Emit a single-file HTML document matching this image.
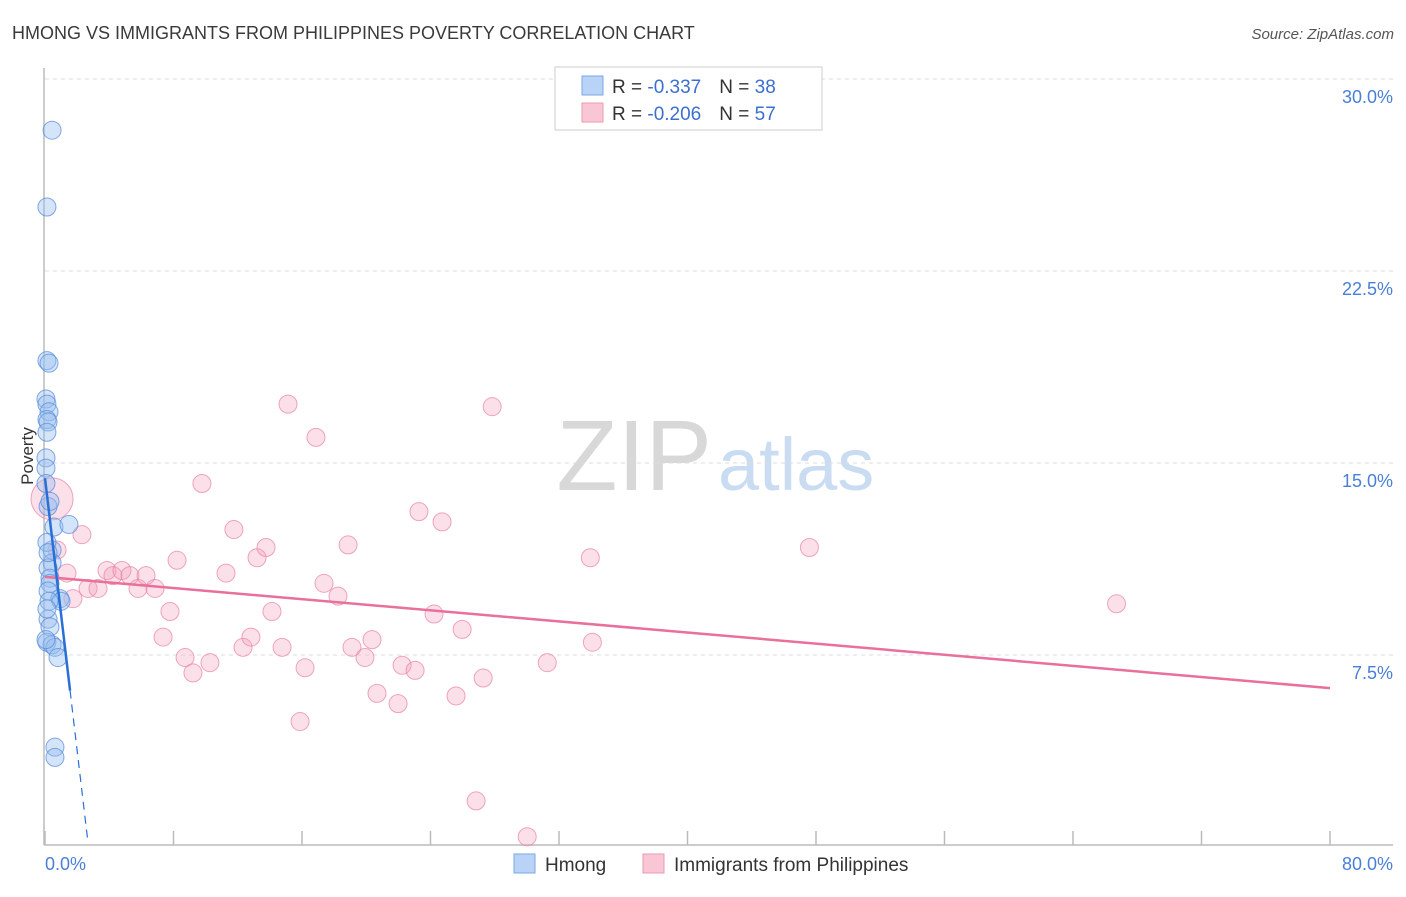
<!DOCTYPE html>
<html><head><meta charset="utf-8"><style>
body{margin:0;background:#fff;font-family:"Liberation Sans",sans-serif}
svg text{font-family:"Liberation Sans",sans-serif}
</style></head><body>
<svg id="chart" width="1406" height="892" viewBox="0 0 1406 892" xmlns="http://www.w3.org/2000/svg">
<text x="12" y="39" font-size="18" fill="#3a3a3a">HMONG VS IMMIGRANTS FROM PHILIPPINES POVERTY CORRELATION CHART</text>
<text x="1394" y="39" font-size="15" fill="#555" text-anchor="end" font-style="italic">Source: ZipAtlas.com</text>
<g>
<text x="712" y="490" font-size="100" fill="#d8d8d8" text-anchor="end" font-family="Liberation Serif,serif">ZIP</text>
<text x="718" y="490" font-size="74" fill="#c9dcf2">atlas</text>
</g>
<g id="grid"></g>
<line x1="44" y1="68" x2="44" y2="845" stroke="#bbb" stroke-width="1.5"/>
<line x1="44" y1="845" x2="1393" y2="845" stroke="#bbb" stroke-width="1.5"/>
<g id="xticks"></g>
<text transform="translate(33,456) rotate(-90)" font-size="17" fill="#333" text-anchor="middle">Poverty</text>
<text x="45" y="870" font-size="18" fill="#4a7fd6">0.0%</text>
<text x="1393" y="870" font-size="18" fill="#4a7fd6" text-anchor="end">80.0%</text>
<g id="pts"></g>
<g id="lines"></g>
<g>
<rect x="555" y="67" width="267" height="63" fill="#fff" stroke="#ccc"/>
<rect x="582" y="76" width="21" height="19" fill="#b8d3f5" stroke="#7aa7e6"/>
<rect x="582" y="103" width="21" height="19" fill="#f8c6d5" stroke="#ec9ab3"/>
<text x="612" y="93" font-size="19" fill="#333">R = <tspan fill="#3b6fd0">-0.337</tspan><tspan dx="18">N = </tspan><tspan fill="#3b6fd0">38</tspan></text>
<text x="612" y="120" font-size="19" fill="#333">R = <tspan fill="#3b6fd0">-0.206</tspan><tspan dx="18">N = </tspan><tspan fill="#3b6fd0">57</tspan></text>
</g>
<g>
<rect x="514" y="854" width="21" height="19" fill="#b8d3f5" stroke="#7aa7e6"/>
<text x="545" y="871" font-size="19" fill="#333">Hmong</text>
<rect x="643" y="854" width="21" height="19" fill="#f8c6d5" stroke="#ec9ab3"/>
<text x="674" y="871" font-size="19" fill="#333">Immigrants from Philippines</text>
</g>
</svg>
<script>
const yTicks=[7.5,15,22.5,30];
const yTickLabels=["7.5%","15.0%","22.5%","30.0%"];
const xTicks=[0,8,16,24,32,40,48,56,64,72,80];
const hmongX=[0.44,0.12,0.12,0.25,0.06,0.12,0.25,0.12,0.19,0.12,0.06,0.06,0.06,0.19,0.56,1.49,0.44,0.44,0.19,0.31,0.31,0.19,0.93,1.0,0.19,0.31,0.12,0.44,0.62,0.81,0.62,0.62,0.12,0.19,0.25,0.12,0.06,0.31];
const hmongY=[28.0,25.0,19.0,18.9,17.5,17.3,17.0,16.7,16.6,16.2,15.2,14.8,14.2,13.3,12.5,12.6,11.6,11.1,10.9,10.5,10.3,10.0,9.7,9.6,8.9,8.6,8.0,7.9,7.8,7.4,3.9,3.5,11.9,11.5,9.6,9.3,8.1,13.5];
const philX=[0.44,0.75,1.37,1.74,2.3,2.68,3.3,3.86,4.23,4.79,5.29,5.79,6.29,6.85,7.35,7.78,8.22,8.72,9.21,9.77,10.27,11.27,11.76,12.33,12.82,13.2,13.76,14.13,14.76,15.13,15.88,16.19,16.87,17.37,18.24,18.87,19.11,19.92,20.36,20.67,21.98,22.23,23.04,23.28,24.22,24.72,25.59,25.97,26.84,27.28,27.84,30.02,31.27,33.95,34.08,47.59,66.71];
const philY=[13.6,11.6,10.7,9.7,12.2,10.1,10.1,10.8,10.6,10.8,10.6,10.1,10.6,10.1,8.2,9.2,11.2,7.4,6.8,14.2,7.2,10.7,12.4,7.8,8.2,11.3,11.7,9.2,7.8,17.3,4.9,7.0,16.0,10.3,9.8,11.8,7.8,7.4,8.1,6.0,5.6,7.1,6.9,13.1,9.1,12.7,5.9,8.5,1.8,6.6,17.2,0.4,7.2,11.3,8.0,11.7,9.5];
const hmongTrend=[14.41,-5.32];
const philTrend=[10.55,-0.0543];
const NS="http://www.w3.org/2000/svg";
const X=v=>45+v/80*1285, Y=v=>847-v/7.5*192;
function mk(t,a,p){const e=document.createElementNS(NS,t);for(const k in a)e.setAttribute(k,a[k]);document.getElementById(p).appendChild(e);return e;}
yTicks.forEach((v,i)=>{
 const l=mk('line',{x1:45,x2:1393,y1:Y(v),y2:Y(v),stroke:'#ddd','stroke-dasharray':'4,4'},'grid');
 
 
 const t=mk('text',{x:1393,y:Y(v)+24,'font-size':18,fill:'#4a7fd6','text-anchor':'end'},'grid');
 t.textContent=yTickLabels[i];
 
 
});
xTicks.forEach(v=>{
 const l=mk('line',{x1:X(v),x2:X(v),y1:831,y2:845,stroke:'#bbb','stroke-width':1.5},'xticks');
 
 
});
philX.forEach((x,i)=>{
 const c=mk('circle',{cx:X(x),cy:Y(philY[i]),r:i==0?21:9,fill:'rgba(244,160,186,0.32)',stroke:'rgba(232,130,160,0.7)'},'pts');
 
 
});
hmongX.forEach((x,i)=>{
 const c=mk('circle',{cx:X(x),cy:Y(hmongY[i]),r:9,fill:'rgba(150,190,240,0.4)',stroke:'rgba(90,140,220,0.75)'},'pts');
 
 
});
let l=mk('line',{x1:X(0),y1:Y(philTrend[0]),x2:X(80),y2:Y(philTrend[0]+philTrend[1]*80),stroke:'#e8709a','stroke-width':2.5},'lines');


l=mk('line',{x1:X(0),y1:Y(hmongTrend[0]),x2:X(1.56),y2:Y(hmongTrend[0]+hmongTrend[1]*1.56),stroke:'#2a6fd6','stroke-width':2.5},'lines');


l=mk('line',{x1:X(1.56),y1:Y(hmongTrend[0]+hmongTrend[1]*1.56),x2:X(2.65),y2:Y(hmongTrend[0]+hmongTrend[1]*2.65),stroke:'#2a6fd6','stroke-width':1.2,'stroke-dasharray':'8,6'},'lines');


</script>
</body></html>
